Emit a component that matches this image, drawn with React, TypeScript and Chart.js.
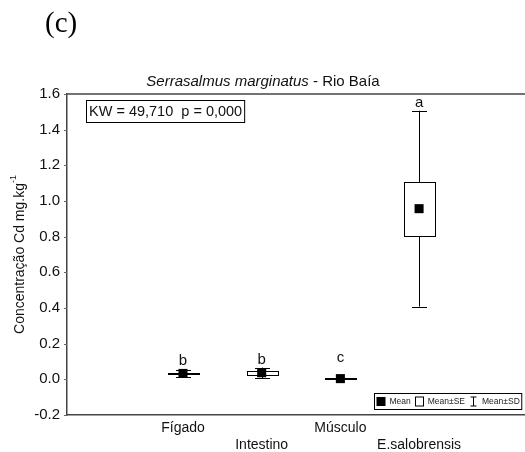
import React, { useEffect, useRef } from "react";
import { Chart, registerables } from "chart.js";

Chart.register(...registerables);

const categories = ["Fígado", "Intestino", "Músculo", "E.salobrensis"];
const means = [0.033, 0.037, 0.004, 0.957];
const seValues = [0.005, 0.01, 0.001, 0.152];
const sdValues = [0.018, 0.029, 0.002, 0.549];
const letters = ["b", "b", "c", "a"];
const letterValues = [0.106, 0.108, 0.123, 1.55];
const yTickValues = [-0.2, 0, 0.2, 0.4, 0.6, 0.8, 1.0, 1.2, 1.4, 1.6];
const titleItalic = "Serrasalmus marginatus";
const titleRest = " - Rio Baía";
const panelLabel = "(c)";
const yLabelMain = "Concentração Cd mg.kg";
const yLabelSup = "-1";
const kwText = "KW = 49,710  p = 0,000";
const legendItems = ["Mean", "Mean±SE", "Mean±SD"];

const FONT = "Arial, 'Liberation Sans', sans-serif";
const BOX_W = 0.4; // category units
const CAP_HALF = 7.5; // px

const drawPlugin = {
  id: "statBoxes",
  beforeDatasetsDraw(chart: any) {
    const { ctx, chartArea } = chart;
    const x = chart.scales.x;
    const y = chart.scales.y;
    ctx.save();
    // top border
    ctx.strokeStyle = "#444";
    ctx.lineWidth = 1.5;
    ctx.beginPath();
    ctx.moveTo(chartArea.left, chartArea.top);
    ctx.lineTo(chartArea.right, chartArea.top);
    ctx.stroke();
    // small outward y ticks
    ctx.strokeStyle = "#666";
    ctx.lineWidth = 1;
    yTickValues.forEach((v) => {
      const py = Math.round(y.getPixelForValue(v)) + 0.5;
      ctx.beginPath();
      ctx.moveTo(chartArea.left - 3, py);
      ctx.lineTo(chartArea.left, py);
      ctx.stroke();
    });
    categories.forEach((_, i) => {
      const v = i + 1;
      const cx = Math.round(x.getPixelForValue(v)) + 0.5;
      const half = (x.getPixelForValue(v + BOX_W / 2) - x.getPixelForValue(v - BOX_W / 2)) / 2;
      const sdHi = y.getPixelForValue(means[i] + sdValues[i]);
      const sdLo = y.getPixelForValue(means[i] - sdValues[i]);
      const seHi = y.getPixelForValue(means[i] + seValues[i]);
      const seLo = y.getPixelForValue(means[i] - seValues[i]);
      ctx.strokeStyle = "#000";
      ctx.lineWidth = 1;
      ctx.beginPath();
      ctx.moveTo(cx, sdHi);
      ctx.lineTo(cx, sdLo);
      ctx.moveTo(cx - CAP_HALF, Math.round(sdHi) + 0.5);
      ctx.lineTo(cx + CAP_HALF, Math.round(sdHi) + 0.5);
      ctx.moveTo(cx - CAP_HALF, Math.round(sdLo) + 0.5);
      ctx.lineTo(cx + CAP_HALF, Math.round(sdLo) + 0.5);
      ctx.stroke();
      const top = Math.round(seHi) + 0.5;
      const bot = Math.max(Math.round(seLo) + 0.5, top + 1);
      ctx.fillStyle = "#fff";
      ctx.fillRect(Math.round(cx - half) + 0.5, top, Math.round(2 * half), bot - top);
      ctx.strokeRect(Math.round(cx - half) + 0.5, top, Math.round(2 * half), bot - top);
    });
    ctx.restore();
  },
  afterDraw(chart: any) {
    const { ctx, chartArea } = chart;
    const x = chart.scales.x;
    const y = chart.scales.y;
    ctx.save();
    ctx.fillStyle = "#111";
    // letters
    ctx.font = `15px ${FONT}`;
    ctx.textAlign = "center";
    ctx.textBaseline = "middle";
    letters.forEach((l, i) => {
      ctx.fillText(l, x.getPixelForValue(i + 1), y.getPixelForValue(letterValues[i]));
    });
    // panel label
    ctx.font = `29px 'Liberation Serif', 'Times New Roman', serif`;
    ctx.textAlign = "left";
    ctx.textBaseline = "alphabetic";
    ctx.fillStyle = "#000";
    ctx.fillText(panelLabel, 45, 32);
    // title
    ctx.fillStyle = "#111";
    ctx.font = `italic 15px ${FONT}`;
    const w1 = ctx.measureText(titleItalic).width;
    ctx.font = `15px ${FONT}`;
    const w2 = ctx.measureText(titleRest).width;
    const tx = 263 - (w1 + w2) / 2;
    ctx.textBaseline = "middle";
    ctx.font = `italic 15px ${FONT}`;
    ctx.fillText(titleItalic, tx, 82);
    ctx.font = `15px ${FONT}`;
    ctx.fillText(titleRest, tx + w1, 82);
    // y label
    ctx.save();
    ctx.translate(20, (chartArea.top + chartArea.bottom) / 2);
    ctx.rotate(-Math.PI / 2);
    ctx.font = `14px ${FONT}`;
    const m1 = ctx.measureText(yLabelMain).width;
    ctx.font = `9px ${FONT}`;
    const m2 = ctx.measureText(yLabelSup).width;
    const sx = -(m1 + m2) / 2;
    ctx.font = `14px ${FONT}`;
    ctx.fillText(yLabelMain, sx, 0);
    ctx.font = `9px ${FONT}`;
    ctx.fillText(yLabelSup, sx + m1, -6);
    ctx.restore();
    // KW box
    ctx.font = `14.5px ${FONT}`;
    const kw = ctx.measureText(kwText).width;
    const bx = chartArea.left + 19.5;
    const by = chartArea.top + 6.5;
    ctx.strokeStyle = "#000";
    ctx.lineWidth = 1;
    ctx.strokeRect(bx, by, kw + 5, 22);
    ctx.textBaseline = "middle";
    ctx.fillText(kwText, bx + 2.5, by + 11.5);
    // legend
    ctx.font = `8.5px ${FONT}`;
    const lw = legendItems.map((t) => ctx.measureText(t).width);
    const symW = 10;
    const gap = 4;
    const total = symW * 3 + lw.reduce((a, b) => a + b, 0) + 3 * 3 + gap * 2 + 4;
    const lr = chartArea.right - 4;
    const lb = chartArea.bottom - 6;
    const lx = Math.round(lr - total) + 0.5;
    const ly = Math.round(lb - 16) + 0.5;
    ctx.fillStyle = "#fff";
    ctx.fillRect(lx, ly, total, 16);
    ctx.strokeRect(lx, ly, total, 16);
    let cx = lx + 2;
    const cy = ly + 8;
    ctx.fillStyle = "#000";
    // mean symbol
    ctx.fillRect(cx, cy - 4.5, 9, 9);
    cx += symW + 3;
    ctx.fillStyle = "#222";
    ctx.fillText(legendItems[0], cx, cy);
    cx += lw[0] + gap;
    ctx.strokeRect(Math.round(cx) + 0.5, cy - 4.5, 8, 9);
    cx += symW + 3;
    ctx.fillText(legendItems[1], cx, cy);
    cx += lw[1] + gap;
    const ix = Math.round(cx + 4) + 0.5;
    ctx.beginPath();
    ctx.moveTo(ix - 3, cy - 4.5);
    ctx.lineTo(ix + 3, cy - 4.5);
    ctx.moveTo(ix, cy - 4.5);
    ctx.lineTo(ix, cy + 4.5);
    ctx.moveTo(ix - 3, cy + 4.5);
    ctx.lineTo(ix + 3, cy + 4.5);
    ctx.stroke();
    cx += symW + 3;
    ctx.fillText(legendItems[2], cx, cy);
    ctx.restore();
  },
};

export default function App() {
  const ref = useRef<HTMLCanvasElement | null>(null);
  useEffect(() => {
    if (!ref.current) return;
    const chart = new Chart(ref.current, {
      type: "scatter",
      data: {
        datasets: [
          {
            label: "Mean",
            data: categories.map((_, i) => ({ x: i + 1, y: means[i] })),
            pointStyle: "rect",
            pointRadius: 6.4,
            pointBackgroundColor: "#000",
            pointBorderWidth: 0,
            backgroundColor: "#000",
            borderColor: "#000",
          },
        ],
      },
      options: {
        animation: false,
        responsive: true,
        maintainAspectRatio: false,
        layout: { autoPadding: false, padding: { top: 94, left: 0, right: 0, bottom: 0 } },
        plugins: { legend: { display: false }, tooltip: { enabled: false }, title: { display: false } },
        scales: {
          x: {
            type: "linear",
            min: -0.474,
            max: 5.346,
            afterBuildTicks: (scale: any) => {
              scale.ticks = categories.map((_, i) => ({ value: i + 1 }));
            },
            afterFit: (scale: any) => {
              scale.height = 37;
            },
            grid: { display: false, drawTicks: false },
            border: { display: true, color: "#444", width: 1.5 },
            ticks: {
              autoSkip: false,
              maxRotation: 0,
              padding: 4,
              color: "#111",
              font: { family: FONT, size: 14, lineHeight: 1.25 },
              callback: (value: any) => {
                const i = Math.round(value) - 1;
                const name = categories[i];
                if (name === undefined) return "";
                return i % 2 === 1 ? ["", name] : name;
              },
            },
          },
          y: {
            min: -0.2,
            max: 1.6,
            afterBuildTicks: (scale: any) => {
              scale.ticks = yTickValues.map((v) => ({ value: v }));
            },
            afterFit: (scale: any) => {
              scale.width = 67;
            },
            grid: { display: false, drawTicks: false },
            border: { display: true, color: "#444", width: 1.5 },
            ticks: {
              padding: 7,
              color: "#111",
              font: { family: FONT, size: 15 },
              callback: (value: any) => Number(value).toFixed(1),
            },
          },
        },
      },
      plugins: [drawPlugin],
    });
    return () => chart.destroy();
  }, []);
  return (
    <div style={{ position: "absolute", left: 0, top: 0, width: 525, height: 452 }}>
      <canvas ref={ref} />
    </div>
  );
}
